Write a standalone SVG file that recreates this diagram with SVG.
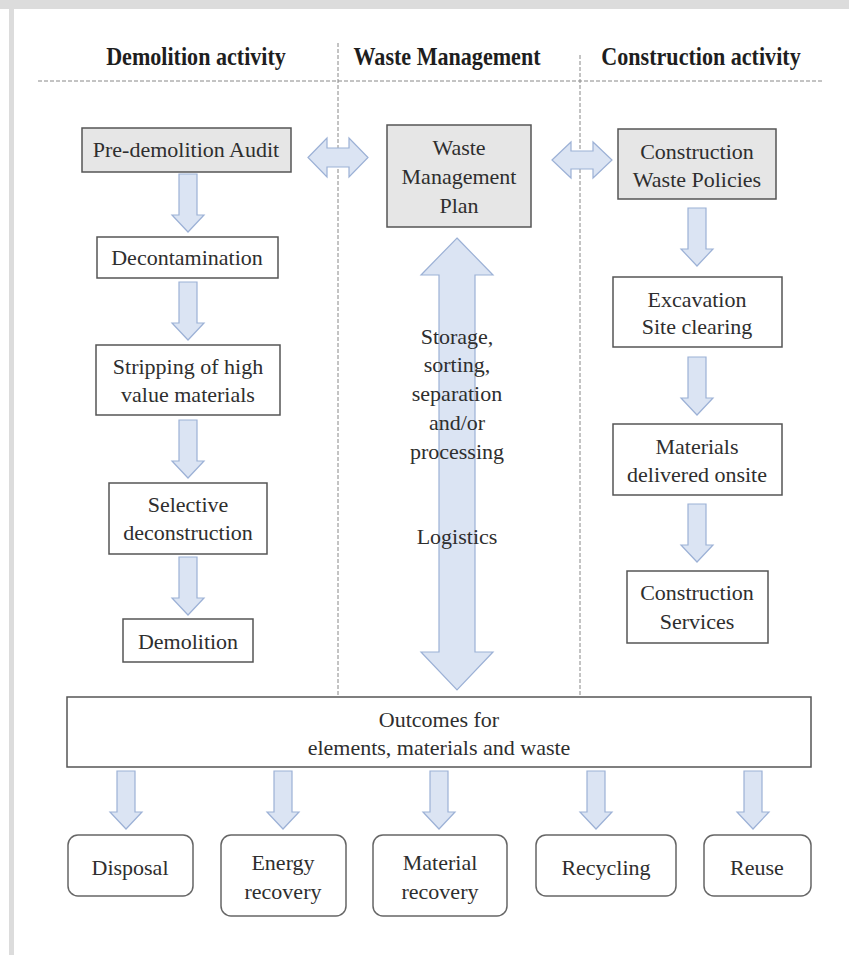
<svg xmlns="http://www.w3.org/2000/svg" xmlns:xlink="http://www.w3.org/1999/xlink" width="849" height="955" viewBox="0 0 849 955">
<style>
  .t { font-family: "Liberation Serif", "Times New Roman", serif; font-size: 22px; fill: #2e2e2e; text-anchor: middle; }
  .h { font-family: "Liberation Serif", "Times New Roman", serif; font-size: 26px; font-weight: bold; fill: #1e1e1e; text-anchor: middle; }
  .box { fill: #ffffff; stroke: #555; stroke-width: 1.5; }
  .gbox { fill: #e6e6e6; stroke: #555; stroke-width: 1.5; }
  .rbox { fill: #ffffff; stroke: #666; stroke-width: 1.5; }
  .arr { fill: #dbe4f3; stroke: #9cb1d6; stroke-width: 1.2; stroke-linejoin: miter; }
  .dash { stroke: #888; stroke-width: 1; stroke-dasharray: 4 2; fill: none; }
</style>
<defs>
  <path id="darrow" d="M-9,0 h18 v41 h7 l-16,17 l-16,-17 h7 z"/>
</defs>
<rect x="0" y="0" width="849" height="955" fill="#ffffff"/>
<rect x="0" y="0" width="849" height="9" fill="#dcdcdc"/>
<rect x="9" y="0" width="5" height="955" fill="#dcdcdc"/>

<g id="headers">
  <text class="h" transform="translate(196,65) scale(0.85,1)">Demolition  activity</text>
  <text class="h" transform="translate(447,65) scale(0.85,1)">Waste Management</text>
  <text class="h" transform="translate(701,65) scale(0.85,1)">Construction  activity</text>
</g>

<g id="dividers">
  <line class="dash" x1="38" y1="81" x2="824" y2="81"/>
  <line class="dash" x1="338" y1="43" x2="338" y2="697"/>
  <line class="dash" x1="580" y1="55" x2="580" y2="697"/>
</g>

<g id="connectors">
  <use href="#darrow" class="arr" x="188" y="174"/>
  <use href="#darrow" class="arr" x="188" y="282"/>
  <use href="#darrow" class="arr" x="188" y="420"/>
  <use href="#darrow" class="arr" x="188" y="557"/>
  <use href="#darrow" class="arr" x="697" y="208"/>
  <use href="#darrow" class="arr" x="697" y="357"/>
  <use href="#darrow" class="arr" x="697" y="504"/>
  <use href="#darrow" class="arr" x="126" y="771"/>
  <use href="#darrow" class="arr" x="283" y="771"/>
  <use href="#darrow" class="arr" x="439" y="771"/>
  <use href="#darrow" class="arr" x="596" y="771"/>
  <use href="#darrow" class="arr" x="753" y="771"/>
  <polygon class="arr" points="308,157.5 327,138 327,148 349,148 349,138 368,157.5 349,177 349,167 327,167 327,177"/>
  <polygon class="arr" points="552,160 571,142 571,151 593,151 593,142 612,160 593,178 593,169 571,169 571,178"/>
  <polygon class="arr" points="457,238 493,275 475,275 475,652 493,652 457,690 421,652 439,652 439,275 421,275"/>
</g>

<g id="wm-labels">
  <text class="t" x="457" y="344">Storage,</text>
  <text class="t" x="457" y="372">sorting,</text>
  <text class="t" x="457" y="401">separation</text>
  <text class="t" x="457" y="430">and/or</text>
  <text class="t" x="457" y="459">processing</text>
  <text class="t" x="457" y="544">Logistics</text>
</g>

<g id="pre-demolition-audit">
  <rect class="gbox" x="82" y="128" width="209" height="44"/>
  <text class="t" x="186" y="157">Pre-demolition Audit</text>
</g>
<g id="decontamination">
  <rect class="box" x="97" y="237" width="181" height="41"/>
  <text class="t" x="187" y="265">Decontamination</text>
</g>
<g id="stripping">
  <rect class="box" x="96" y="345" width="184" height="70"/>
  <text class="t" x="188" y="374">Stripping  of high</text>
  <text class="t" x="188" y="402">value materials</text>
</g>
<g id="selective-deconstruction">
  <rect class="box" x="109" y="483" width="158" height="71"/>
  <text class="t" x="188" y="512">Selective</text>
  <text class="t" x="188" y="540">deconstruction</text>
</g>
<g id="demolition">
  <rect class="box" x="123" y="619" width="130" height="43"/>
  <text class="t" x="188" y="649">Demolition</text>
</g>

<g id="waste-management-plan">
  <rect class="gbox" x="387" y="125" width="144" height="102"/>
  <text class="t" x="459" y="155">Waste</text>
  <text class="t" x="459" y="184">Management</text>
  <text class="t" x="459" y="213">Plan</text>
</g>

<g id="construction-waste-policies">
  <rect class="gbox" x="618" y="129" width="158" height="70"/>
  <text class="t" x="697" y="159">Construction</text>
  <text class="t" x="697" y="187">Waste Policies</text>
</g>
<g id="excavation">
  <rect class="box" x="613" y="277" width="169" height="70"/>
  <text class="t" x="697" y="307">Excavation</text>
  <text class="t" x="697" y="334">Site clearing</text>
</g>
<g id="materials-delivered">
  <rect class="box" x="613" y="424" width="169" height="71"/>
  <text class="t" x="697" y="454">Materials</text>
  <text class="t" x="697" y="482">delivered  onsite</text>
</g>
<g id="construction-services">
  <rect class="box" x="627" y="571" width="141" height="72"/>
  <text class="t" x="697" y="600">Construction</text>
  <text class="t" x="697" y="629">Services</text>
</g>

<g id="outcomes">
  <rect class="box" x="67" y="697" width="744" height="70"/>
  <text class="t" x="439" y="727">Outcomes for</text>
  <text class="t" x="439" y="755">elements, materials and waste</text>
</g>

<g id="disposal">
  <rect class="rbox" x="68" y="835" width="125" height="61" rx="10"/>
  <text class="t" x="130" y="875">Disposal</text>
</g>
<g id="energy-recovery">
  <rect class="rbox" x="221" y="835" width="125" height="81" rx="10"/>
  <text class="t" x="283" y="870">Energy</text>
  <text class="t" x="283" y="899">recovery</text>
</g>
<g id="material-recovery">
  <rect class="rbox" x="373" y="835" width="134" height="81" rx="10"/>
  <text class="t" x="440" y="870">Material</text>
  <text class="t" x="440" y="899">recovery</text>
</g>
<g id="recycling">
  <rect class="rbox" x="536" y="835" width="140" height="61" rx="10"/>
  <text class="t" x="606" y="875">Recycling</text>
</g>
<g id="reuse">
  <rect class="rbox" x="704" y="835" width="107" height="61" rx="10"/>
  <text class="t" x="757" y="875">Reuse</text>
</g>
</svg>
